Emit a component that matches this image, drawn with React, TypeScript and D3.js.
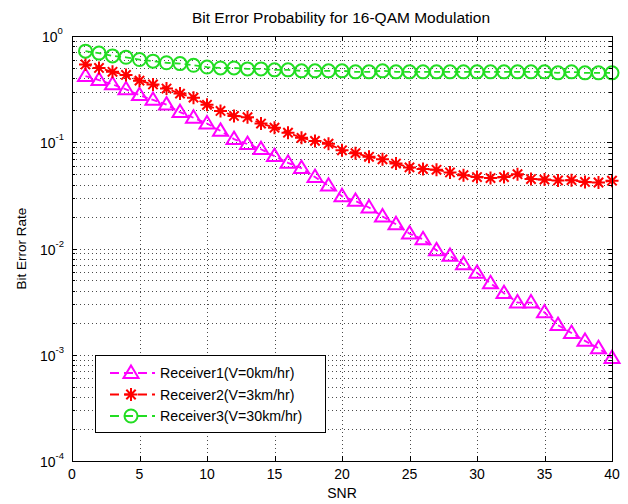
import React from "react";
import * as d3 from "d3";

const snr = [1,2,3,4,5,6,7,8,9,10,11,12,13,14,15,16,17,18,19,20,21,22,23,24,25,26,27,28,29,30,31,32,33,34,35,36,37,38,39,40];
const receiver1 = [0.42,0.385,0.35,0.315,0.277,0.25,0.226,0.192,0.17,0.15,0.128,0.107,0.096,0.086,0.074,0.064,0.057,0.047,0.039,0.031,0.028,0.0243,0.02,0.0169,0.0138,0.0122,0.0096,0.0085,0.0071,0.0059,0.0047,0.0038,0.0031,0.0031,0.0025,0.0019,0.0016,0.00135,0.00115,0.00093];
const receiver2 = [0.54,0.5,0.46,0.43,0.38,0.35,0.32,0.287,0.263,0.225,0.197,0.177,0.172,0.15,0.137,0.123,0.11,0.103,0.097,0.084,0.079,0.073,0.069,0.063,0.058,0.056,0.055,0.052,0.049,0.047,0.046,0.047,0.05,0.045,0.0445,0.0437,0.044,0.0423,0.0418,0.0435];
const receiver3 = [0.72,0.69,0.65,0.63,0.6,0.58,0.56,0.55,0.53,0.51,0.5,0.5,0.49,0.49,0.48,0.48,0.47,0.47,0.47,0.47,0.46,0.46,0.47,0.46,0.46,0.46,0.46,0.46,0.46,0.46,0.46,0.46,0.46,0.46,0.46,0.45,0.46,0.45,0.45,0.45];
const seriesNames = ["Receiver1(V=0km/hr)", "Receiver2(V=3km/hr)", "Receiver3(V=30km/hr)"];
const seriesColors = ["#ff00ff", "#ff0000", "#22dd22"];
const seriesMarkers = ["triangle", "star", "circle"];
const xTicks = [0,5,10,15,20,25,30,35,40];
const yExponents = [0,-1,-2,-3,-4];
const title = "Bit Error Probability for 16-QAM Modulation";
const xLabel = "SNR";
const yLabel = "Bit Error Rate";

const W = 628, H = 504;
const L = 72, R = 612, T = 36, B = 461;
const FONT = "'Liberation Sans', Arial, sans-serif";

function Marker({ type, x, y, color }: { type: string; x: number; y: number; color: string }) {
  if (type === "triangle") {
    const s = 7.5;
    const p = `M${x},${y - s} L${x + s},${y + s * 0.65} L${x - s},${y + s * 0.65} Z`;
    return <path d={p} fill="none" stroke={color} strokeWidth={2} />;
  }
  if (type === "circle") {
    return <circle cx={x} cy={y} r={6.5} fill="none" stroke={color} strokeWidth={2} />;
  }
  const s = 6.5, d = s * 0.72;
  const p = `M${x - s},${y}L${x + s},${y}M${x},${y - s}L${x},${y + s}M${x - d},${y - d}L${x + d},${y + d}M${x - d},${y + d}L${x + d},${y - d}`;
  return <path d={p} fill="none" stroke={color} strokeWidth={2} />;
}

export default function App() {
  const x = d3.scaleLinear().domain([0, 40]).range([L, R]);
  const y = d3.scaleLog().domain([1e-4, 1]).range([B, T]);
  const all = [receiver1, receiver2, receiver3];
  const line = d3.line<number>().x((_, i) => x(snr[i])).y((v) => y(v));

  const minorVals: number[] = [];
  for (let e = -4; e < 0; e++) for (let m = 2; m <= 9; m++) minorVals.push(m * Math.pow(10, e));
  const majorVals = yExponents.map((e) => Math.pow(10, e));

  return (
    <div style={{ position: "absolute", left: 0, top: 0 }}>
      <svg width={W} height={H} style={{ display: "block", background: "#fff" }} fontFamily={FONT}>
        <rect x={0} y={0} width={W} height={H} fill="#fff" />
        {/* grid */}
        <g stroke="#000" strokeWidth={1} strokeDasharray="1 3" opacity={0.7}>
          {xTicks.slice(1, -1).map((t) => (
            <line key={"gx" + t} x1={Math.round(x(t)) + 0.5} x2={Math.round(x(t)) + 0.5} y1={T} y2={B} />
          ))}
          {[...majorVals.slice(1, -1), ...minorVals].map((v, i) => (
            <line key={"gy" + i} x1={L} x2={R} y1={Math.round(y(v)) + 0.5} y2={Math.round(y(v)) + 0.5} />
          ))}
        </g>
        {/* series */}
        {all.map((data, si) => (
          <g key={"s" + si}>
            <path d={line(data) || ""} fill="none" stroke={seriesColors[si]} strokeWidth={1.8} strokeDasharray="6 4" />
            {data.map((v, i) => (
              <Marker key={i} type={seriesMarkers[si]} x={x(snr[i])} y={y(v)} color={seriesColors[si]} />
            ))}
          </g>
        ))}
        {/* axes box */}
        <rect x={L + 0.5} y={T + 0.5} width={R - L} height={B - T} fill="none" stroke="#000" strokeWidth={1} />
        {/* ticks */}
        <g stroke="#000" strokeWidth={1}>
          {xTicks.map((t) => (
            <g key={"xt" + t}>
              <line x1={Math.round(x(t)) + 0.5} x2={Math.round(x(t)) + 0.5} y1={B} y2={B - 5} />
              <line x1={Math.round(x(t)) + 0.5} x2={Math.round(x(t)) + 0.5} y1={T} y2={T + 5} />
            </g>
          ))}
          {majorVals.map((v, i) => (
            <g key={"yt" + i}>
              <line x1={L} x2={L + 5} y1={Math.round(y(v)) + 0.5} y2={Math.round(y(v)) + 0.5} />
              <line x1={R} x2={R - 5} y1={Math.round(y(v)) + 0.5} y2={Math.round(y(v)) + 0.5} />
            </g>
          ))}
          {minorVals.map((v, i) => (
            <g key={"ym" + i}>
              <line x1={L} x2={L + 3} y1={Math.round(y(v)) + 0.5} y2={Math.round(y(v)) + 0.5} />
              <line x1={R} x2={R - 3} y1={Math.round(y(v)) + 0.5} y2={Math.round(y(v)) + 0.5} />
            </g>
          ))}
        </g>
        {/* x tick labels */}
        <g fontSize={14} fill="#000" textAnchor="middle">
          {xTicks.map((t) => (
            <text key={"xl" + t} x={x(t)} y={B + 18}>{t}</text>
          ))}
        </g>
        {/* y tick labels */}
        <g fontSize={14} fill="#000">
          {yExponents.map((e) => (
            <text key={"yl" + e} x={e < 0 ? 40 : 42} y={y(Math.pow(10, e)) + 6}>
              10<tspan fontSize={9.5} dy={-8}>{e}</tspan>
            </text>
          ))}
        </g>
        <text x={341} y={23} textAnchor="middle" fontSize={15.5} fill="#000">{title}</text>
        <text x={(L + R) / 2} y={498} textAnchor="middle" fontSize={14} fill="#000">{xLabel}</text>
        <text transform={`translate(26,${(T + B) / 2}) rotate(-90)`} textAnchor="middle" fontSize={13.5} fill="#000">{yLabel}</text>
        {/* legend */}
        <g>
          <rect x={95.5} y={355.5} width={230} height={77} fill="#fff" stroke="#000" strokeWidth={1} />
          {seriesNames.map((n, i) => {
            const ly = 373 + i * 21.5;
            return (
              <g key={"lg" + i}>
                <line x1={110} x2={155} y1={ly} y2={ly} stroke={seriesColors[i]} strokeWidth={1.8} strokeDasharray="9 5" />
                <Marker type={seriesMarkers[i]} x={131} y={ly} color={seriesColors[i]} />
                <text x={160} y={ly + 5} fontSize={14.2} fill="#000">{n}</text>
              </g>
            );
          })}
        </g>
      </svg>
    </div>
  );
}
